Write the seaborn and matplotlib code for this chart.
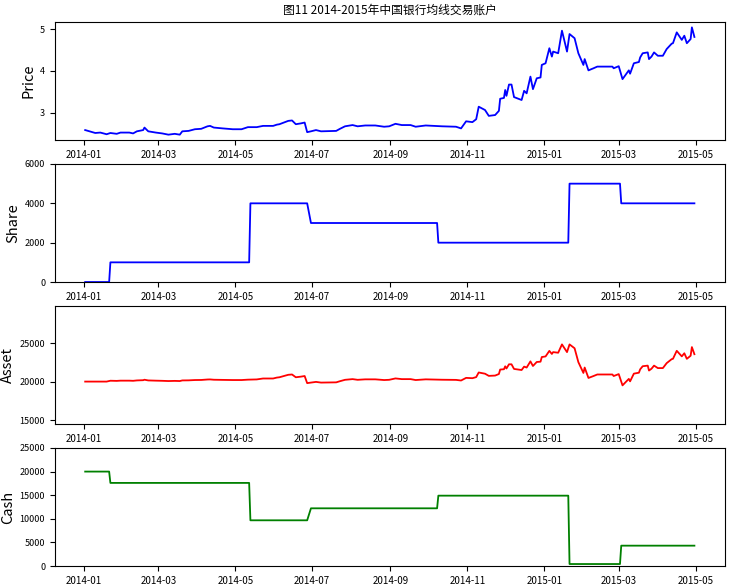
import numpy as np
import pandas as pd
import matplotlib
matplotlib.use('Agg')
import matplotlib.pyplot as plt
import matplotlib.dates as mdates
from matplotlib.ticker import MultipleLocator
import seaborn as sns

plt.rcParams['font.family'] = ['Noto Sans CJK SC', 'DejaVu Sans']
plt.rcParams['axes.unicode_minus'] = False

# 收盘价
price_dates = ['2014-01-02', '2014-01-10', '2014-01-14', '2014-01-19', '2014-01-22', '2014-01-27',
               '2014-01-30', '2014-02-06', '2014-02-09', '2014-02-12', '2014-02-17', '2014-02-18',
               '2014-02-21', '2014-02-27', '2014-03-04', '2014-03-09', '2014-03-14', '2014-03-18',
               '2014-03-20', '2014-03-25', '2014-03-30', '2014-04-04', '2014-04-09', '2014-04-11',
               '2014-04-14', '2014-04-21', '2014-04-29', '2014-05-06', '2014-05-11', '2014-05-18',
               '2014-05-23', '2014-05-31', '2014-06-03', '2014-06-05', '2014-06-12', '2014-06-15',
               '2014-06-18', '2014-06-22', '2014-06-25', '2014-06-27', '2014-06-30', '2014-07-04',
               '2014-07-08', '2014-07-20', '2014-07-23', '2014-07-27', '2014-08-02', '2014-08-06',
               '2014-08-12', '2014-08-20', '2014-08-27', '2014-08-31', '2014-09-05', '2014-09-10',
               '2014-09-17', '2014-09-21', '2014-09-29', '2014-10-12', '2014-10-23', '2014-10-27',
               '2014-10-31', '2014-11-05', '2014-11-08', '2014-11-10', '2014-11-15', '2014-11-18',
               '2014-11-23', '2014-11-26', '2014-11-27', '2014-11-30', '2014-12-01', '2014-12-02',
               '2014-12-04', '2014-12-06', '2014-12-08', '2014-12-14', '2014-12-16', '2014-12-18',
               '2014-12-21', '2014-12-23', '2014-12-26', '2014-12-29', '2014-12-30', '2015-01-02',
               '2015-01-05', '2015-01-07', '2015-01-08', '2015-01-12', '2015-01-15', '2015-01-19',
               '2015-01-21', '2015-01-25', '2015-01-28', '2015-02-01', '2015-02-02', '2015-02-05',
               '2015-02-09', '2015-02-12', '2015-02-24', '2015-02-25', '2015-03-01', '2015-03-04',
               '2015-03-09', '2015-03-10', '2015-03-13', '2015-03-17', '2015-03-18', '2015-03-20',
               '2015-03-24', '2015-03-25', '2015-03-27', '2015-03-29', '2015-04-01', '2015-04-05',
               '2015-04-08', '2015-04-12', '2015-04-13', '2015-04-16', '2015-04-20', '2015-04-22',
               '2015-04-24', '2015-04-27', '2015-04-28', '2015-04-30']
price_vals = [2.58, 2.51, 2.52, 2.48, 2.51, 2.49,
              2.52, 2.52, 2.50, 2.55, 2.58, 2.64,
              2.55, 2.52, 2.50, 2.47, 2.49, 2.47,
              2.55, 2.56, 2.60, 2.61, 2.67, 2.68,
              2.64, 2.62, 2.60, 2.60, 2.65, 2.65,
              2.68, 2.68, 2.71, 2.72, 2.80, 2.81,
              2.72, 2.74, 2.76, 2.53, 2.55, 2.58,
              2.55, 2.56, 2.61, 2.67, 2.70, 2.67,
              2.69, 2.69, 2.66, 2.67, 2.73, 2.70,
              2.70, 2.66, 2.69, 2.67, 2.66, 2.62,
              2.79, 2.77, 2.84, 3.14, 3.06, 2.92,
              2.94, 3.04, 3.33, 3.35, 3.54, 3.40,
              3.67, 3.67, 3.37, 3.30, 3.52, 3.46,
              3.86, 3.56, 3.82, 3.84, 4.14, 4.18,
              4.54, 4.34, 4.46, 4.42, 4.96, 4.46,
              4.88, 4.78, 4.42, 4.14, 4.28, 4.01,
              4.06, 4.10, 4.10, 4.06, 4.11, 3.80,
              4.01, 3.93, 4.18, 4.21, 4.32, 4.42,
              4.44, 4.28, 4.34, 4.44, 4.36, 4.36,
              4.52, 4.65, 4.66, 4.92, 4.74, 4.84,
              4.66, 4.76, 5.04, 4.81]

# 持仓 / 现金 (交易前后两天)
trade_dates = ['2014-01-02', '2014-01-21', '2014-01-22', '2014-05-12', '2014-05-13',
               '2014-06-27', '2014-06-30', '2014-10-08', '2014-10-09', '2015-01-20',
               '2015-01-21', '2015-03-02', '2015-03-03', '2015-04-30']
share_vals = [0, 0, 1000, 1000, 4000, 4000, 3000, 3000, 2000, 2000, 5000, 5000, 4000, 4000]
cash_vals = [20000, 20000, 17600, 17600, 9680, 9680, 12220, 12220, 14900, 14900,
             420, 420, 4310, 4310]

price = pd.DataFrame({'date': pd.to_datetime(price_dates), 'price': price_vals})
pos = pd.DataFrame({'date': pd.to_datetime(trade_dates), 'share': share_vals, 'cash': cash_vals})

# 账户总资产 = 现金 + 持仓 * 价格
df = pd.merge_asof(price.sort_values('date'), pos.sort_values('date'), on='date')
df['asset'] = df['cash'] + df['share'] * df['price']

fig, axes = plt.subplots(4, 1, figsize=(7.32, 5.88), dpi=100)
fig.subplots_adjust(left=0.075, right=0.99, top=0.9626, bottom=0.0374, hspace=0.203)

sns.lineplot(data=price, x='date', y='price', ax=axes[0], color='blue', linewidth=1.3)
sns.lineplot(data=pos, x='date', y='share', ax=axes[1], color='blue', linewidth=1.3)
sns.lineplot(data=df, x='date', y='asset', ax=axes[2], color='red', linewidth=1.3)
sns.lineplot(data=pos, x='date', y='cash', ax=axes[3], color='green', linewidth=1.3)

axes[0].set_title('图11 2014-2015年中国银行均线交易账户', fontsize=8.5)
axes[0].yaxis.set_major_locator(MultipleLocator(1))
axes[1].set_ylim(0, 6000)
axes[1].yaxis.set_major_locator(MultipleLocator(2000))
axes[2].set_ylim(14500, 29800)
axes[2].set_yticks([15000, 20000, 25000])
axes[3].set_ylim(0, 25000)

for ax, lab in zip(axes, ['Price', 'Share', 'Asset', 'Cash']):
    ax.set_ylabel(lab, fontsize=10.5, labelpad=3)
    ax.set_xlabel('')
    ax.xaxis.set_major_locator(mdates.MonthLocator(bymonth=[1, 3, 5, 7, 9, 11]))
    ax.xaxis.set_major_formatter(mdates.DateFormatter('%Y-%m'))
    ax.tick_params(axis='x', labelsize=7)
    ax.tick_params(axis='y', labelsize=6.5)
    ax.set_xlim(pd.Timestamp('2013-12-09'), pd.Timestamp('2015-05-24'))

plt.savefig('out.png', dpi=100)
